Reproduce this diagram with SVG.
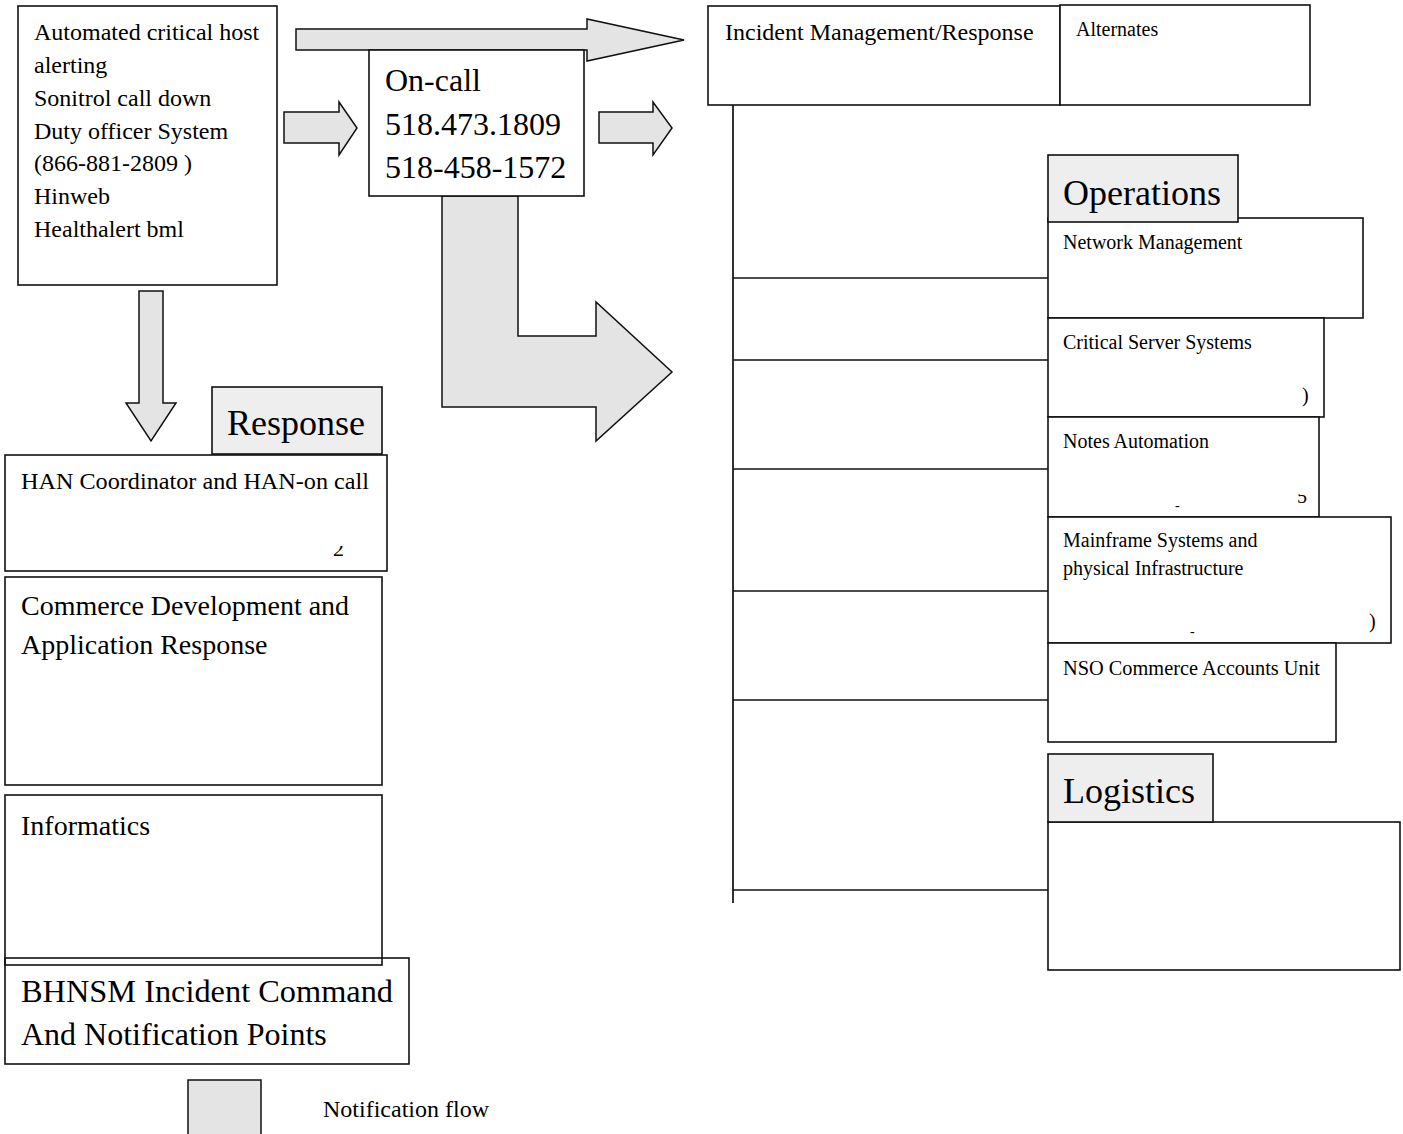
<svg xmlns="http://www.w3.org/2000/svg" width="1403" height="1134" viewBox="0 0 1403 1134">
<style>
.t{font-family:"Liberation Serif","Times New Roman",serif;fill:#000}
.box{fill:#fff;stroke:#111;stroke-width:1.6}
.open{fill:none;stroke:#111;stroke-width:1.6}
.lbl{fill:#eeeeee;stroke:#111;stroke-width:1.6}
.arr{fill:#e4e4e4;stroke:#111;stroke-width:1.5;stroke-linejoin:miter}
.con{stroke:#111;stroke-width:1.5;fill:none}
</style>
<defs>
<clipPath id="c5"><rect x="1290" y="494" width="30" height="14"/></clipPath>
<clipPath id="c2"><rect x="325" y="546" width="30" height="14"/></clipPath>
</defs>
<rect width="1403" height="1134" fill="#fff"/>

<g id="arrows">
<polygon class="arr" points="296,29 587,29 587,19 684,40 587,61 587,50 296,50"/>
<polygon class="arr" points="284,112 339,112 339,102 357,128 339,155 339,143 284,143"/>
<polygon class="arr" points="599,112 653,112 653,102 672,128 653,155 653,143 599,143"/>
<polygon class="arr" points="139,291 163,291 163,403 176,403 151,441 126,403 139,403"/>
<polygon class="arr" points="442,196 518,196 518,336 596,336 596,302 672,372 596,441 596,407 442,407"/>
</g>

<g id="connectors">
<line class="con" x1="733" y1="105" x2="733" y2="903" style="stroke:#333;stroke-width:2"/>
<line class="con" x1="733" y1="278" x2="1048" y2="278"/>
<line class="con" x1="733" y1="360" x2="1048" y2="360"/>
<line class="con" x1="733" y1="469" x2="1048" y2="469"/>
<line class="con" x1="733" y1="591" x2="1048" y2="591"/>
<line class="con" x1="733" y1="700" x2="1048" y2="700"/>
<line class="con" x1="733" y1="890" x2="1048" y2="890"/>
</g>

<g id="alerting">
<rect class="box" x="18" y="6" width="259" height="279"/>
<text class="t" font-size="24" x="34" y="40">Automated critical host</text>
<text class="t" font-size="24" x="34" y="73">alerting</text>
<text class="t" font-size="24" x="34" y="106">Sonitrol call down</text>
<text class="t" font-size="24" x="34" y="139">Duty officer System</text>
<text class="t" font-size="24" x="34" y="171">(866-881-2809 )</text>
<text class="t" font-size="24" x="34" y="204">Hinweb</text>
<text class="t" font-size="24" x="34" y="237">Healthalert bml</text>
</g>

<g id="oncall">
<rect class="box" x="369" y="50" width="215" height="146"/>
<text class="t" font-size="32" x="385" y="91">On-call</text>
<text class="t" font-size="32" x="385" y="135">518.473.1809</text>
<text class="t" font-size="32" x="385" y="178">518-458-1572</text>
</g>

<g id="incident">
<rect class="box" x="708" y="6" width="352" height="99"/>
<text class="t" font-size="24" x="725" y="40">Incident Management/Response</text>
</g>
<g id="alternates">
<rect class="box" x="1060" y="5" width="250" height="100"/>
<text class="t" font-size="20" x="1076" y="36">Alternates</text>
</g>

<g id="network">
<rect class="box" x="1048" y="218" width="315" height="100"/>
<text class="t" font-size="20" x="1063" y="249">Network Management</text>
</g>
<g id="operations">
<rect class="lbl" x="1048" y="155" width="190" height="67"/>
<text class="t" font-size="36" x="1063" y="205">Operations</text>
</g>
<g id="critical">
<rect class="box" x="1048" y="318" width="276" height="99"/>
<text class="t" font-size="20" x="1063" y="349">Critical Server Systems</text>
<text class="t" font-size="20" x="1302" y="402">)</text>
</g>
<g id="notes">
<rect class="box" x="1048" y="417" width="271" height="100"/>
<text class="t" font-size="20" x="1063" y="448">Notes Automation</text>
<text class="t" font-size="20" x="1297" y="503" clip-path="url(#c5)">5</text>
<text class="t" font-size="14" x="1175" y="510">-</text>
</g>
<g id="mainframe">
<rect class="box" x="1048" y="517" width="343" height="126"/>
<text class="t" font-size="20" x="1063" y="547">Mainframe Systems and</text>
<text class="t" font-size="20" x="1063" y="575">physical Infrastructure</text>
<text class="t" font-size="20" x="1369" y="628">)</text>
<text class="t" font-size="14" x="1190" y="636">-</text>
</g>
<g id="nso">
<rect class="box" x="1048" y="643" width="288" height="99"/>
<text class="t" font-size="20" x="1063" y="675" textLength="257" lengthAdjust="spacingAndGlyphs">NSO Commerce Accounts Unit</text>
</g>
<g id="logistics">
<rect class="box" x="1048" y="822" width="352" height="148"/>
<rect class="lbl" x="1048" y="754" width="165" height="68"/>
<text class="t" font-size="36" x="1063" y="803">Logistics</text>
</g>

<g id="response">
<rect class="lbl" x="212" y="387" width="170" height="67"/>
<text class="t" font-size="36" x="227" y="435">Response</text>
</g>
<g id="han">
<rect class="box" x="5" y="455" width="382" height="116"/>
<text class="t" font-size="24" x="21" y="489" textLength="348" lengthAdjust="spacingAndGlyphs">HAN Coordinator and HAN-on call</text>
<text class="t" font-size="22" x="333" y="556" clip-path="url(#c2)">2</text>
</g>
<g id="commerce">
<rect class="box" x="5" y="577" width="377" height="208"/>
<text class="t" font-size="28" x="21" y="615">Commerce Development and</text>
<text class="t" font-size="28" x="21" y="654">Application Response</text>
</g>
<g id="informatics">
<rect class="open" x="5" y="795" width="377" height="170"/>
<text class="t" font-size="28" x="21" y="835">Informatics</text>
</g>
<g id="bhnsm">
<rect class="open" x="5" y="958" width="404" height="106"/>
<text class="t" font-size="32" x="21" y="1002" textLength="372" lengthAdjust="spacingAndGlyphs">BHNSM Incident Command</text>
<text class="t" font-size="32" x="21" y="1045">And Notification Points</text>
</g>

<g id="legend">
<rect class="arr" x="188" y="1080" width="73" height="60"/>
<text class="t" font-size="24" x="323" y="1117">Notification flow</text>
</g>
</svg>
